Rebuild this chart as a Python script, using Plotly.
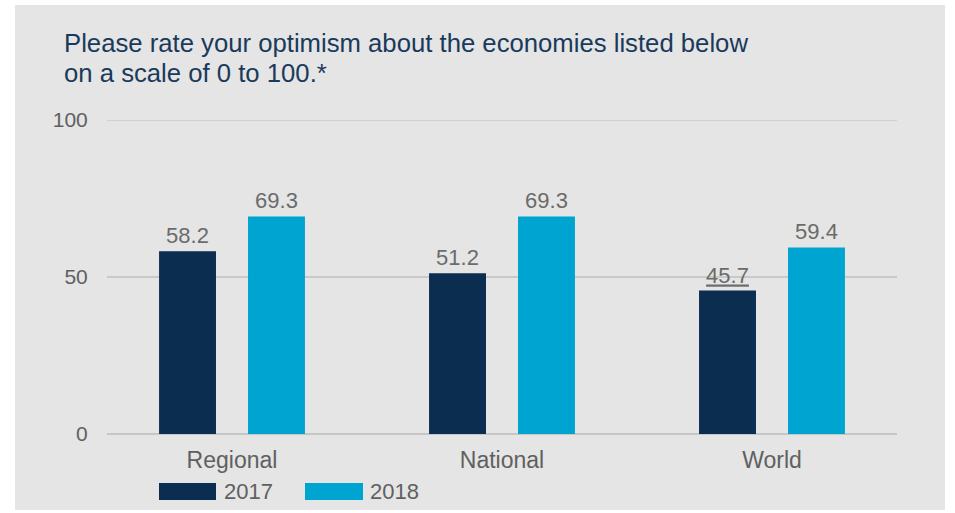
import plotly.graph_objects as go

categories = ["Regional", "National", "World"]
series_names = ["2017", "2018"]
values_2017 = [58.2, 51.2, 45.7]
values_2018 = [69.3, 69.3, 59.4]
label_2017 = ["58.2", "51.2", "<u>45.7</u>"]
label_2018 = ["69.3", "69.3", "59.4"]
y_ticks = [0, 50, 100]
title_lines = ["Please rate your optimism about the economies listed below",
               "on a scale of 0 to 100.*"]

W, H = 955, 513
L, R, T, B = 107, 58, 120, 79
PW, PH = W - L - R, H - T - B

def px(x):
    return (x - L) / PW

def py(y):
    return (H - B - y) / PH

C17 = "#0b2d4f"
C18 = "#00a4d1"
BG = "#e4e5e4"
GRID = "#c9c9c9"
FONT = "Liberation Sans, Arial, sans-serif"

fig = go.Figure()
fig.add_trace(go.Bar(x=categories, y=values_2017, name=series_names[0], marker_color=C17,
                     marker_line_width=0, text=label_2017, textposition="outside",
                     textfont=dict(size=22, color="#6b6b6b", family=FONT), cliponaxis=False))
fig.add_trace(go.Bar(x=categories, y=values_2018, name=series_names[1], marker_color=C18,
                     marker_line_width=0, text=label_2018, textposition="outside",
                     textfont=dict(size=22, color="#6b6b6b", family=FONT), cliponaxis=False))

shapes = [
    dict(type="rect", xref="paper", yref="paper", x0=px(15), x1=px(945), y0=py(510), y1=py(5),
         fillcolor=BG, line_width=0, layer="below"),
    dict(type="line", xref="paper", yref="y", x0=0, x1=1, y0=y_ticks[-1], y1=y_ticks[-1],
         line=dict(color=GRID, width=1.5), layer="below"),
    dict(type="rect", xref="paper", yref="paper", x0=px(159), x1=px(216), y0=py(500), y1=py(483),
         fillcolor=C17, line_width=0),
    dict(type="rect", xref="paper", yref="paper", x0=px(305), x1=px(363), y0=py(500), y1=py(483),
         fillcolor=C18, line_width=0),
]
annotations = [
    dict(xref="paper", yref="paper", x=px(222), y=py(491), text=series_names[0], showarrow=False,
         xanchor="left", yanchor="middle", font=dict(size=22, color="#606060", family=FONT)),
    dict(xref="paper", yref="paper", x=px(368), y=py(491), text=series_names[1], showarrow=False,
         xanchor="left", yanchor="middle", font=dict(size=22, color="#606060", family=FONT)),
    dict(xref="paper", yref="paper", x=px(62), y=py(43), text=title_lines[0], showarrow=False,
         xanchor="left", yanchor="middle", font=dict(size=25.7, color="#1a3a5c", family=FONT)),
    dict(xref="paper", yref="paper", x=px(62), y=py(73), text=title_lines[1], showarrow=False,
         xanchor="left", yanchor="middle", font=dict(size=25.7, color="#1a3a5c", family=FONT)),
]

fig.update_layout(
    width=W, height=H,
    margin=dict(l=L, r=R, t=T, b=B),
    paper_bgcolor="white", plot_bgcolor=BG,
    barmode="group", bargap=0.341, bargroupgap=0.36,
    showlegend=False,
    shapes=shapes, annotations=annotations,
    font=dict(family=FONT),
)
fig.update_xaxes(range=[-0.463, 2.463], showgrid=False, showline=False, zeroline=False,
                 tickfont=dict(size=23, color="#606060", family=FONT), ticks="outside",
                 ticklen=5, tickcolor="rgba(0,0,0,0)")
fig.update_yaxes(range=[0, 100], tickvals=y_ticks, showgrid=True, gridcolor=GRID, gridwidth=1.5,
                 zeroline=True, zerolinecolor="#c6c6c6", zerolinewidth=2.2, showline=False,
                 tickfont=dict(size=21, color="#606060", family=FONT), ticks="outside",
                 ticklen=14, tickcolor="rgba(0,0,0,0)")

fig.write_html("out.html", config={"displayModeBar": False},
               post_script="document.body.style.margin='0';")
